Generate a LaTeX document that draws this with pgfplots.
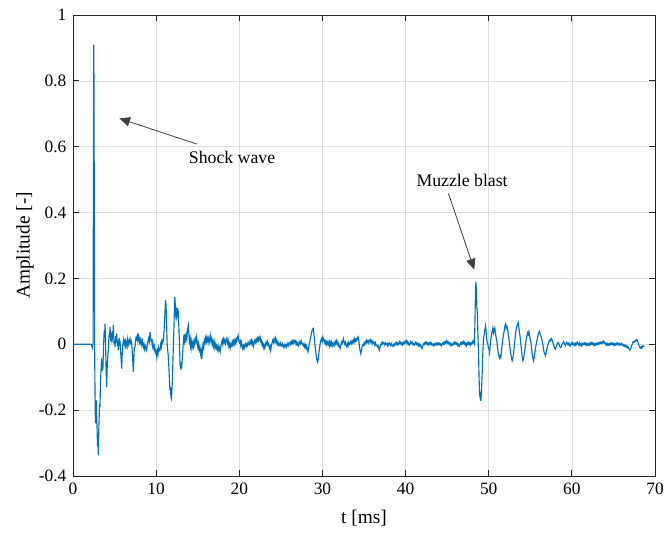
\documentclass[border=0pt]{standalone}
\usepackage{fontspec}
\setmainfont{Liberation Serif}
\usepackage{pgfplots}
\pgfplotsset{compat=1.18}
\usetikzlibrary{arrows.meta}
\definecolor{mblue}{HTML}{0072BD}
\definecolor{axgray}{HTML}{262626}
\definecolor{gridc}{RGB}{222,222,222}
\definecolor{arrgray}{HTML}{404040}
\begin{document}
\begin{tikzpicture}
\begin{axis}[name=ax, scale only axis, width=436.5pt, height=345.75pt,
 xmin=0, xmax=70, ymin=-0.4, ymax=1,
 xtick={0,10,20,30,40,50,60,70},
 xticklabels={0,10,20,30,40,50,60,70},
 ytick={-0.4,-0.2,0,0.2,0.4,0.6,0.8,1},
 yticklabels={-0.4,-0.2,0,0.2,0.4,0.6,0.8,1},
 tick align=inside, tick pos=both,
 major tick length=4.3pt,
 grid=major, major grid style={color=gridc, line width=0.5pt},
 axis line style={color=axgray, line width=0.6pt},
 tick style={color=axgray, line width=0.6pt},
 every tick label/.append style={font=\fontsize{13}{15}\selectfont, color=black},
 yticklabel style={xshift=-1.5pt},
 xticklabel style={yshift=-2pt},
 xlabel={t [ms]},
 xlabel style={font=\fontsize{14.5}{16}\selectfont, at={(axis description cs:0.5,0)}, anchor=center, yshift=-31.5pt},
 clip=true,
]
\addplot[color=mblue, line width=0.85pt] coordinates {
(0,0) (2.2,0) (2.26,-0.006) (2.32,-0.011) (2.38,-0.002) (2.42,0.002)
(2.46,0.6) (2.5,0.91) (2.53,0.76) (2.57,0.3) (2.61,-0.04) (2.65,-0.15) (2.70,-0.24) (2.74,-0.19) (2.78,-0.23) (2.82,-0.17) (2.85,-0.22) (2.90,-0.26) (2.95,-0.31) (3.00,-0.29) (3.05,-0.337) (3.10,-0.26) (3.15,-0.22) (3.20,-0.18) (3.25,-0.19) (3.30,-0.12) (3.35,-0.09) (3.40,-0.06) (3.45,-0.049) (3.50,-0.055) (3.55,-0.08) (3.60,-0.069) (3.65,-0.03) (3.70,0.01) (3.75,0.04) (3.80,0.02) (3.85,0.063) (3.90,0.03) (3.95,-0.04) (4.00,-0.09) (4.05,-0.13) (4.10,-0.08) (4.15,-0.05) (4.20,-0.03) (4.25,-0.018) (4.30,0.01) (4.35,0.03) (4.40,0.02) (4.45,0.053) (4.50,0.03) (4.55,0.01) (4.60,0.035) (4.65,0.022) (4.70,0.005) (4.75,0.04) (4.80,0.03) (4.85,0.058) (4.90,0.02) (4.95,0.0) (5.00,0.015) (5.05,-0.008) (5.10,0.01) (5.15,0.025) (5.20,0.005) (5.25,0.032) (5.30,0.01) (5.35,-0.005) (5.40,0.012) (5.45,-0.018) (5.50,0.0) (5.55,0.02) (5.60,-0.004) (5.65,0.012) (5.70,-0.01) (5.75,-0.03) (5.80,-0.05) (5.86,-0.074) (5.92,-0.03) (5.98,-0.005) (6.06,0.012) (6.12,-0.003) (6.18,0.015) (6.26,-0.004) (6.32,0.008) (6.40,-0.006) (6.46,0.002) (6.52,0.015) (6.58,-0.002) (6.64,0.01) (6.72,0.0) (6.80,0.012) (6.86,0.017) (6.92,0.005) (7.00,0.01) (7.06,0.002) (7.12,-0.02) (7.18,-0.045) (7.26,-0.084) (7.32,-0.04) (7.38,-0.01) (7.46,-0.008) (7.52,0.01) (7.58,0.02) (7.66,0.015) (7.72,0.025) (7.80,0.01) (7.86,0.032) (7.92,0.02) (8.00,0.008) (8.06,0.022) (8.12,0.005) (8.20,0.012) (8.28,-0.002) (8.36,0.01) (8.46,-0.008) (8.54,0.0) (8.62,-0.015) (8.70,-0.005) (8.78,-0.012) (8.86,-0.018) (8.94,0.0) (9.02,0.01) (9.10,0.018) (9.18,0.008) (9.27,0.037) (9.34,0.02) (9.40,0.01) (9.47,0.012) (9.54,-0.005) (9.60,0.005) (9.67,-0.008) (9.74,-0.015) (9.82,-0.005) (9.90,-0.025) (9.98,-0.02) (10.07,-0.038) (10.14,-0.02) (10.22,-0.03) (10.30,-0.01) (10.38,-0.02) (10.47,-0.018) (10.55,0.0) (10.62,-0.008) (10.70,0.012) (10.78,0.005) (10.87,0.012) (10.95,0.04) (11.05,0.09) (11.12,0.134) (11.19,0.12) (11.26,0.06) (11.33,0.0) (11.40,-0.02) (11.47,-0.038) (11.55,-0.08) (11.62,-0.12) (11.67,-0.14) (11.72,-0.13) (11.78,-0.16) (11.84,-0.165) (11.90,-0.14) (11.97,-0.1) (12.02,-0.049) (12.08,0.0) (12.14,0.05) (12.20,0.11) (12.25,0.144) (12.30,0.12) (12.36,0.09) (12.42,0.1) (12.47,0.083) (12.52,0.09) (12.58,0.11) (12.63,0.09) (12.67,0.093) (12.72,0.06) (12.78,0.02) (12.83,-0.02) (12.87,-0.059) (12.92,-0.07) (12.98,-0.074) (13.03,-0.065) (13.07,-0.074) (13.13,-0.05) (13.20,-0.02) (13.27,0.005) (13.35,0.03) (13.41,0.01) (13.47,0.02) (13.54,0.005) (13.62,0.03) (13.70,0.02) (13.78,0.045) (13.87,0.058) (13.94,0.03) (14.00,0.01) (14.07,0.02) (14.14,-0.005) (14.22,0.01) (14.30,-0.012) (14.38,0.004) (14.47,-0.008) (14.55,0.01) (14.63,0.0) (14.71,0.018) (14.80,0.008) (14.87,0.022) (14.95,0.005) (15.03,-0.01) (15.11,0.002) (15.19,-0.018) (15.27,-0.01) (15.35,-0.03) (15.42,-0.02) (15.49,-0.044) (15.56,-0.02) (15.64,0.0) (15.72,-0.01) (15.80,0.012) (15.88,0.005) (15.96,0.02) (16.04,0.008) (16.12,0.022) (16.20,0.01) (16.28,0.018) (16.36,0.003) (16.44,0.015) (16.50,0.027) (16.58,0.01) (16.66,0.018) (16.74,0.0) (16.82,0.01) (16.90,-0.005) (16.98,0.008) (17.06,-0.01) (17.14,0.0) (17.22,-0.012) (17.30,-0.004) (17.38,-0.016) (17.46,-0.006) (17.54,-0.018) (17.62,-0.01) (17.70,-0.023) (17.78,-0.008) (17.86,0.004) (17.94,0.012) (18.02,0.0) (18.10,0.015) (18.18,0.006) (18.26,0.014) (18.34,0.002) (18.42,0.01) (18.50,0.018) (18.58,0.004) (18.66,0.012) (18.74,-0.006) (18.82,0.002) (18.90,-0.012) (18.98,0.0) (19.06,-0.004) (19.14,0.008) (19.22,-0.002) (19.30,0.01) (19.38,0.0) (19.46,0.012) (19.54,0.004) (19.62,0.016) (19.70,0.008) (19.78,0.02) (19.86,0.027) (19.94,0.012) (20.02,0.005) (20.10,0.01) (20.18,-0.004) (20.26,0.006) (20.34,-0.006) (20.42,-0.014) (20.50,-0.004) (20.58,-0.012) (20.66,-0.002) (20.74,0.002) (20.82,-0.008) (20.90,0.0) (20.98,-0.004) (21.06,0.006) (21.14,0.0) (21.22,-0.002) (21.30,0.01) (21.38,0.004) (21.46,0.012) (21.54,0.0) (21.62,0.008) (21.70,-0.006) (21.78,0.004) (21.86,0.012) (21.94,0.006) (22.02,0.016) (22.10,0.008) (22.18,0.018) (22.26,0.01) (22.34,0.02) (22.42,0.014) (22.50,0.022) (22.58,0.008) (22.66,0.012) (22.74,-0.002) (22.82,0.004) (22.90,-0.01) (22.98,-0.002) (23.06,-0.012) (23.14,-0.004) (23.22,0.006) (23.30,0.0) (23.38,0.008) (23.46,-0.002) (23.54,0.002) (23.62,-0.012) (23.70,-0.006) (23.78,-0.018) (23.86,-0.004) (23.94,0.004) (24.02,0.012) (24.10,0.006) (24.18,0.016) (24.26,0.008) (24.34,0.018) (24.42,0.006) (24.50,0.012) (24.58,0.0) (24.66,0.006) (24.74,-0.002) (24.82,0.002) (24.90,-0.004) (24.98,0.004) (25.06,-0.002) (25.14,-0.006) (25.22,0.002) (25.30,-0.004) (25.38,-0.01) (25.46,-0.002) (25.54,-0.006) (25.62,0.0) (25.70,-0.008) (25.78,-0.002) (25.86,0.004) (25.94,-0.004) (26.02,0.002) (26.10,0.006) (26.18,0.0) (26.26,0.008) (26.34,0.002) (26.42,0.01) (26.50,0.004) (26.58,0.012) (26.66,0.006) (26.74,0.01) (26.82,0.0) (26.90,0.006) (26.98,-0.002) (27.06,0.004) (27.14,-0.004) (27.22,0.002) (27.30,0.008) (27.38,0.002) (27.46,0.01) (27.54,0.004) (27.62,0.0) (27.70,-0.004) (27.78,0.002) (27.86,-0.008) (27.94,-0.002) (28.02,-0.012) (28.10,-0.006) (28.18,-0.016) (28.26,-0.023) (28.34,-0.01) (28.42,0.002) (28.50,0.01) (28.58,0.02) (28.66,0.03) (28.74,0.04) (28.82,0.046) (28.90,0.048) (28.96,0.035) (29.02,0.02) (29.10,0.0) (29.18,-0.02) (29.26,-0.035) (29.34,-0.048) (29.42,-0.054) (29.50,-0.045) (29.58,-0.025) (29.66,-0.01) (29.74,0.005) (29.82,0.012) (29.90,0.018) (29.98,0.01) (30.06,0.022) (30.14,0.014) (30.22,0.006) (30.30,0.012) (30.38,0.002) (30.46,0.008) (30.54,-0.002) (30.62,0.006)
(30.70,0.0) (30.78,0.008) (30.86,-0.004) (30.93,0.007) (31.01,-0.002) (31.09,0.006) (31.17,-0.006) (31.25,0.002) (31.33,-0.003) (31.41,0.004) (31.49,-0.004) (31.57,0.008) (31.65,0.002) (31.73,0.012) (31.81,0.004) (31.89,-0.004) (31.97,0.002) (32.05,-0.008) (32.13,-0.013) (32.21,-0.004) (32.29,0.006) (32.37,0.002) (32.45,0.01) (32.53,0.017) (32.61,0.006) (32.69,0.0) (32.77,0.006) (32.85,-0.004) (32.93,-0.008) (33.01,0.002) (33.09,-0.004) (33.17,0.006) (33.25,0.0) (33.33,0.002) (33.41,0.008) (33.49,0.002) (33.57,0.01) (33.65,0.004) (33.73,0.012) (33.81,0.006) (33.89,0.017) (33.97,0.01) (34.05,0.016) (34.13,0.012) (34.21,0.02) (34.29,0.023) (34.37,0.012) (34.45,-0.005) (34.53,-0.02) (34.61,-0.028) (34.69,-0.02) (34.77,-0.008) (34.85,-0.002) (34.93,-0.004) (35.01,0.004) (35.09,0.0) (35.17,0.008) (35.25,0.004) (35.33,0.012) (35.41,0.006) (35.49,0.01) (35.57,0.004) (35.65,0.012) (35.74,0.015) (35.82,0.006) (35.90,0.01) (35.98,0.002) (36.06,0.008) (36.14,0.003) (36.22,0.006) (36.30,-0.002) (36.38,0.004) (36.46,-0.004) (36.54,-0.003) (36.62,-0.008) (36.70,-0.004) (36.78,-0.012) (36.86,-0.018) (36.94,-0.008) (37.02,-0.002) (37.10,0.004) (37.18,0.0) (37.26,0.006) (37.34,0.002) (37.42,0.004) (37.50,-0.002) (37.58,0.004) (37.66,0.0) (37.74,0.002) (37.82,-0.004) (37.90,0.002) (37.98,-0.002) (38.06,0.004) (38.14,0.0) (38.22,-0.004) (38.30,0.002) (38.38,-0.002) (38.46,-0.006) (38.54,-0.003) (38.62,0.001) (38.70,-0.004) (38.78,0.002) (38.86,0.006) (38.94,0.0) (39.02,0.004) (39.10,-0.002) (39.18,0.002) (39.26,0.008) (39.34,0.002) (39.42,0.006) (39.50,0.0) (39.58,0.004) (39.66,-0.002) (39.74,0.003) (39.82,0.008) (39.90,0.002) (39.98,0.006) (40.06,0.012) (40.14,0.004) (40.22,0.008) (40.30,0.0) (40.38,0.004) (40.46,-0.002) (40.54,0.002) (40.62,0.008) (40.70,0.003) (40.78,0.006) (40.86,0.0) (40.94,0.002) (41.02,-0.003) (41.10,0.002) (41.18,0.006) (41.26,0.0) (41.34,0.004) (41.42,-0.002) (41.50,0.002) (41.58,-0.004) (41.66,0.0) (41.74,-0.006) (41.82,-0.002) (41.90,-0.008) (41.98,-0.013) (42.06,-0.006) (42.14,0.0) (42.22,0.004) (42.30,0.0) (42.38,0.006) (42.46,0.002) (42.54,0.006) (42.62,0.0) (42.70,0.004) (42.78,-0.002) (42.86,0.002) (42.94,0.006) (43.02,0.0) (43.10,0.004) (43.18,-0.002) (43.26,0.0) (43.34,-0.004) (43.42,0.001) (43.50,-0.003) (43.58,0.002) (43.66,-0.002) (43.74,0.003) (43.82,-0.001) (43.90,0.004) (43.98,0.0) (44.06,0.003) (44.14,-0.002) (44.22,0.001) (44.30,-0.004) (44.38,0.0) (44.46,0.004) (44.54,0.0) (44.62,0.006) (44.70,0.002) (44.78,0.008) (44.86,0.004) (44.94,0.01) (45.02,0.004) (45.10,0.008) (45.18,0.002) (45.26,0.004) (45.34,-0.002) (45.42,0.002) (45.50,-0.004) (45.58,0.0) (45.66,-0.002) (45.74,0.004) (45.82,0.0) (45.90,0.006) (45.98,0.002) (46.06,0.006) (46.14,0.0) (46.22,0.002) (46.30,-0.004) (46.38,0.0) (46.46,-0.006) (46.54,-0.002) (46.62,0.004) (46.70,0.0) (46.78,0.006) (46.86,0.002) (46.94,0.008) (47.02,0.002) (47.10,0.006) (47.18,-0.002) (47.26,0.002) (47.34,-0.004) (47.42,0.004) (47.50,0.0) (47.58,0.006) (47.66,0.0) (47.74,0.004) (47.82,-0.002) (47.90,0.004) (47.98,0.002) (48.06,0.008) (48.14,0.004) (48.22,0.012) (48.28,0.005)
(48.34,0.06) (48.40,0.15) (48.46,0.19) (48.52,0.16) (48.58,0.11) (48.64,0.09) (48.70,0.03) (48.78,-0.03) (48.84,-0.1) (48.90,-0.152) (48.96,-0.16) (49.02,-0.145) (49.06,-0.172) (49.12,-0.15) (49.18,-0.11) (49.24,-0.07) (49.30,-0.02) (49.38,0.02) (49.46,0.03) (49.54,0.045) (49.62,0.056) (49.68,0.04) (49.74,0.02) (49.82,0.005) (49.90,0.0) (49.96,-0.01) (50.04,-0.015) (50.10,-0.025) (50.16,-0.01) (50.22,0.01) (50.28,0.02) (50.34,0.03) (50.42,0.04) (50.50,0.05) (50.58,0.035) (50.66,0.045) (50.74,0.05) (50.82,0.03) (50.90,0.02) (50.98,0.01) (51.06,-0.01) (51.14,-0.025) (51.22,-0.035) (51.30,-0.042) (51.38,-0.035) (51.46,-0.04) (51.54,-0.02) (51.62,0.0) (51.70,0.015) (51.78,0.03) (51.86,0.04) (51.94,0.055) (52.02,0.061) (52.10,0.05) (52.18,0.055) (52.26,0.045) (52.34,0.035) (52.42,0.02) (52.50,0.0) (52.58,-0.015) (52.66,-0.03) (52.74,-0.04) (52.82,-0.05) (52.90,-0.045) (52.98,-0.03) (53.06,-0.01) (53.14,0.01) (53.22,0.03) (53.30,0.045) (53.38,0.055) (53.46,0.06) (53.55,0.066) (53.63,0.05) (53.71,0.035) (53.79,0.02) (53.87,0.0) (53.95,-0.02) (54.03,-0.04) (54.11,-0.05) (54.19,-0.045) (54.27,-0.03) (54.35,-0.015) (54.43,0.0) (54.51,0.015) (54.59,0.025) (54.67,0.035) (54.75,0.03) (54.84,0.039) (54.92,0.025) (55.00,0.015) (55.08,0.005) (55.16,-0.015) (55.24,-0.03) (55.32,-0.042) (55.39,-0.05) (55.47,-0.04) (55.55,-0.025) (55.63,-0.01) (55.71,0.0) (55.79,0.01) (55.87,0.02) (55.95,0.03) (56.03,0.035) (56.11,0.039) (56.19,0.03) (56.27,0.025) (56.35,0.02) (56.43,0.01) (56.51,0.0) (56.59,-0.015) (56.67,-0.025) (56.75,-0.03) (56.83,-0.035) (56.91,-0.025) (56.99,-0.015) (57.07,-0.005) (57.15,0.0) (57.23,0.008) (57.31,0.012) (57.39,0.01) (57.47,0.016) (57.55,0.018) (57.63,0.012) (57.71,0.006) (57.79,0.0) (57.87,-0.008) (57.95,-0.012) (58.03,-0.015) (58.11,-0.008) (58.19,-0.002) (58.27,0.004) (58.35,0.006) (58.43,0.002) (58.51,-0.004) (58.59,-0.008) (58.67,-0.01) (58.75,-0.006) (58.83,0.0) (58.91,0.004) (58.99,0.008) (59.07,0.004) (59.15,0.0) (59.23,-0.004) (59.31,0.002) (59.39,0.006) (59.47,0.002) (59.55,-0.002) (59.63,0.004) (59.71,0.0) (59.79,-0.006) (59.87,-0.002) (59.95,0.004) (60.03,0.0) (60.11,0.005) (60.19,0.0) (60.27,-0.004) (60.35,0.002) (60.43,-0.002) (60.51,0.004) (60.59,0.0) (60.67,0.006) (60.75,0.002) (60.83,-0.002) (60.91,0.003) (60.99,-0.003) (61.07,0.001) (61.15,-0.004) (61.23,0.002) (61.31,-0.002) (61.39,0.003) (61.47,0.0) (61.55,0.004) (61.63,-0.001) (61.71,0.003) (61.79,-0.003) (61.87,0.001) (61.95,-0.002) (62.03,0.002) (62.11,-0.002) (62.19,0.004) (62.27,0.0) (62.35,0.005) (62.43,0.001) (62.51,0.004) (62.59,-0.002) (62.67,0.002) (62.75,-0.003) (62.83,0.001) (62.91,-0.002) (62.99,0.003) (63.07,0.0) (63.15,0.004) (63.23,0.0) (63.31,0.005) (63.39,0.002) (63.47,0.006) (63.55,0.003) (63.63,0.007) (63.71,0.004) (63.79,0.009) (63.87,0.004) (63.95,0.006) (64.03,0.0) (64.11,0.003) (64.19,-0.002) (64.27,0.002) (64.35,-0.003) (64.43,0.001) (64.51,-0.002) (64.59,0.003) (64.67,0.0) (64.75,0.004) (64.83,0.0) (64.91,0.003) (64.99,-0.002) (65.07,0.002) (65.15,-0.003) (65.23,0.001) (65.31,-0.002) (65.39,0.003) (65.47,0.0) (65.55,0.004) (65.63,-0.001) (65.71,0.002) (65.79,-0.003) (65.87,0.0) (65.95,0.003) (66.03,-0.002) (66.11,0.0) (66.19,-0.005) (66.27,-0.002) (66.35,-0.006) (66.43,-0.003) (66.51,-0.008) (66.59,-0.005) (66.67,-0.01) (66.75,-0.007) (66.83,-0.012) (66.91,-0.015) (66.99,-0.018) (67.07,-0.014) (67.15,-0.008) (67.23,-0.002) (67.31,0.004) (67.39,0.008) (67.47,0.006) (67.55,0.01) (67.63,0.012) (67.71,0.01) (67.79,0.014) (67.87,0.012) (67.95,0.006) (68.03,0.0) (68.11,-0.006) (68.19,-0.01) (68.27,-0.012) (68.35,-0.008) (68.43,-0.012) (68.51,-0.006) (68.59,-0.004) (68.67,-0.006) (68.71,-0.005)
};
\draw[arrgray, line width=0.6pt, -{Triangle[length=8pt,width=7pt]}] (axis cs:14.89,0.608) -- (axis cs:5.57,0.686);
\draw[arrgray, line width=0.6pt, -{Triangle[length=8pt,width=7pt]}] (axis cs:45.16,0.458) -- (axis cs:48.26,0.227);
\node[font=\fontsize{13.3}{15}\selectfont, inner sep=0pt] at (axis cs:19.13,0.568) {Shock wave};
\node[font=\fontsize{13.3}{15}\selectfont, inner sep=0pt] at (axis cs:46.8,0.498) {Muzzle blast};
\end{axis}
\node[rotate=90, font=\fontsize{14.5}{16}\selectfont, inner sep=0pt] at ([xshift=-36pt]ax.west) {Amplitude [-]};
\pgfresetboundingbox
\path ([xshift=-54.75pt,yshift=-42pt]ax.south west) rectangle ([xshift=6.75pt,yshift=11.25pt]ax.north east);
\end{tikzpicture}
\end{document}
